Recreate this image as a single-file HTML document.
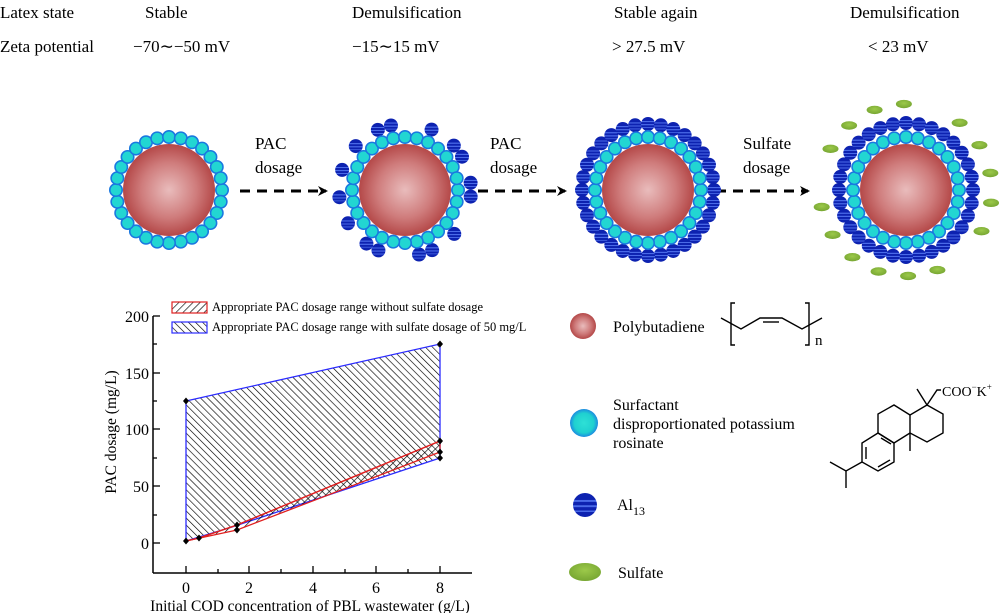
<!DOCTYPE html>
<html><head><meta charset="utf-8"><style>
html,body{margin:0;padding:0;background:#fff;}
svg{display:block;font-family:"Liberation Serif",serif;}
</style></head><body>
<svg id="s" width="1000" height="613" viewBox="0 0 1000 613" xmlns="http://www.w3.org/2000/svg">
<defs>
<radialGradient id="core" cx="50%" cy="50%" r="50%"><stop offset="0" stop-color="#e9bcbc"/><stop offset="0.6" stop-color="#cf7c7c"/><stop offset="1" stop-color="#b44848"/></radialGradient>
<radialGradient id="cy" cx="50%" cy="50%" r="50%"><stop offset="0" stop-color="#2ee0d6"/><stop offset="0.7" stop-color="#1fd0d0"/><stop offset="1" stop-color="#1c8be0"/></radialGradient>
<linearGradient id="bl" x1="0" y1="0" x2="0" y2="1">
<stop offset="0" stop-color="#0d22b0"/><stop offset="0.28" stop-color="#0d22b0"/><stop offset="0.3" stop-color="#4a6ae8"/><stop offset="0.36" stop-color="#4a6ae8"/><stop offset="0.38" stop-color="#0d22b0"/><stop offset="0.5" stop-color="#0d22b0"/><stop offset="0.52" stop-color="#4a6ae8"/><stop offset="0.58" stop-color="#4a6ae8"/><stop offset="0.6" stop-color="#0d22b0"/><stop offset="0.72" stop-color="#0d22b0"/><stop offset="0.74" stop-color="#4a6ae8"/><stop offset="0.78" stop-color="#4a6ae8"/><stop offset="0.8" stop-color="#0d22b0"/><stop offset="1" stop-color="#0d22b0"/></linearGradient>
<radialGradient id="gr" cx="50%" cy="40%" r="60%"><stop offset="0" stop-color="#9cc94a"/><stop offset="1" stop-color="#77a632"/></radialGradient>
<pattern id="hr" width="5" height="5" patternUnits="userSpaceOnUse" patternTransform="rotate(45)"><line x1="0" y1="0" x2="0" y2="5" stroke="#000" stroke-width="1.3"/></pattern>
<pattern id="hb" width="5" height="5" patternUnits="userSpaceOnUse" patternTransform="rotate(-45)"><line x1="0" y1="0" x2="0" y2="5" stroke="#000" stroke-width="1.3"/></pattern>
<marker id="ah" markerWidth="10" markerHeight="10" refX="8" refY="5" orient="auto" markerUnits="userSpaceOnUse"><path d="M0,0 L10,5 L0,10 L3,5 Z" fill="#000"/></marker>
</defs>
<g font-size="17">
<text x="0" y="18">Latex state</text>
<text x="0" y="52">Zeta potential</text>
<text x="145" y="18">Stable</text>
<text x="133" y="52">−70∼−50 mV</text>
<text x="352" y="18">Demulsification</text>
<text x="352" y="52">−15∼15 mV</text>
<text x="614" y="18">Stable again</text>
<text x="612" y="52">&gt; 27.5 mV</text>
<text x="850" y="18">Demulsification</text>
<text x="868" y="52">&lt; 23 mV</text>
<text x="255" y="149">PAC</text><text x="255" y="173">dosage</text>
<text x="490" y="149">PAC</text><text x="490" y="173">dosage</text>
<text x="743" y="149">Sulfate</text><text x="743" y="173">dosage</text>
</g>
<g stroke="#000" stroke-width="3" stroke-dasharray="10,7" fill="none">
<line x1="240" y1="191" x2="326" y2="191" marker-end="url(#ah)"/>
<line x1="478" y1="191" x2="565" y2="191" marker-end="url(#ah)"/>
<line x1="716" y1="191" x2="808" y2="191" marker-end="url(#ah)"/>
</g>
<g id="parts"></g>

<!-- chart -->
<g font-size="16">
<polygon points="186,541 186,401 440,344 440,458 232,527" fill="url(#hb)" stroke="#2b2bff" stroke-width="1.3"/>
<polygon points="186,541 199,538 237,525 440,441 440,452 237,530" fill="url(#hr)" stroke="#e02020" stroke-width="1.3"/>
<polyline points="186,541 199,538 237,525 440,441" fill="none" stroke="#e02020" stroke-width="1.3"/>
<g fill="#000" id="mk"></g>
<line x1="153" y1="316" x2="153" y2="573" stroke="#000" stroke-width="1.5"/>
<line x1="153" y1="573" x2="472" y2="573" stroke="#000" stroke-width="1.5"/>
<g stroke="#000" stroke-width="1.3">
<line x1="153" y1="316" x2="160" y2="316"/><line x1="153" y1="344" x2="157" y2="344"/>
<line x1="153" y1="373" x2="160" y2="373"/><line x1="153" y1="401" x2="157" y2="401"/>
<line x1="153" y1="429" x2="160" y2="429"/><line x1="153" y1="458" x2="157" y2="458"/>
<line x1="153" y1="486" x2="160" y2="486"/><line x1="153" y1="515" x2="157" y2="515"/>
<line x1="153" y1="543" x2="160" y2="543"/>
<line x1="186" y1="573" x2="186" y2="566"/><line x1="218" y1="573" x2="218" y2="569"/>
<line x1="249" y1="573" x2="249" y2="566"/><line x1="281" y1="573" x2="281" y2="569"/>
<line x1="313" y1="573" x2="313" y2="566"/><line x1="345" y1="573" x2="345" y2="569"/>
<line x1="376" y1="573" x2="376" y2="566"/><line x1="408" y1="573" x2="408" y2="569"/>
<line x1="440" y1="573" x2="440" y2="566"/>
</g>
<g text-anchor="end"><text x="149" y="322">200</text><text x="149" y="379">150</text><text x="149" y="435">100</text><text x="149" y="492">50</text><text x="149" y="549">0</text></g>
<g text-anchor="middle"><text x="186" y="593">0</text><text x="249" y="593">2</text><text x="313" y="593">4</text><text x="376" y="593">6</text><text x="440" y="593">8</text>
<text x="310" y="611" font-size="15.5">Initial COD concentration of PBL wastewater (g/L)</text>
<text transform="translate(116,432) rotate(-90)" font-size="15.5">PAC dosage (mg/L)</text></g>
<rect x="172" y="302" width="35" height="11" fill="url(#hr)" stroke="#e02020" stroke-width="1.2"/>
<rect x="172" y="322" width="35" height="11" fill="url(#hb)" stroke="#2b2bff" stroke-width="1.2"/>
<text x="212" y="311" font-size="12.5">Appropriate PAC dosage range without sulfate dosage</text>
<text x="212" y="331" font-size="12.5">Appropriate PAC dosage range with sulfate dosage of 50 mg/L</text>
</g>

<!-- right legend -->
<circle cx="583" cy="326" r="13" fill="url(#core)"/>
<circle cx="584" cy="423" r="14" fill="url(#cy)"/>
<circle cx="585" cy="505" r="12" fill="url(#bl)"/>
<ellipse cx="585" cy="572" rx="16" ry="9" fill="url(#gr)"/>
<g font-size="16">
<text x="613" y="332">Polybutadiene</text>
<text x="613" y="410">Surfactant</text>
<text x="613" y="429">disproportionated potassium</text>
<text x="613" y="448">rosinate</text>
<text x="617" y="510">Al<tspan font-size="12" dy="5">13</tspan></text>
<text x="618" y="578">Sulfate</text>
<text x="815" y="345" font-size="15">n</text>
<text x="942" y="396" font-size="14">COO<tspan font-size="9" dy="-6">−</tspan><tspan dy="6">K</tspan><tspan font-size="9" dy="-6">+</tspan></text>
</g>
<g stroke="#000" stroke-width="1.4" fill="none">
<polyline points="735,303 731,303 731,345 735,345"/>
<polyline points="805,303 809,303 809,345 805,345"/>
<polyline points="721,318 741,329 760,318 782,318 802,329 822,318"/>
<line x1="763" y1="322" x2="779" y2="322"/>
<polyline points="927,405 943,414 943,433 927,442 910,433 910,415 927,405"/>
<polyline points="910,415 894,405 878,414 878,433 894,443 910,433"/>
<polyline points="878,433 894,443 894,462 878,471 862,462 862,443 878,433"/>
<line x1="881" y1="438" x2="891" y2="444"/><line x1="890" y1="460" x2="878" y2="467"/><line x1="866" y1="447" x2="866" y2="459"/>
<line x1="910" y1="433" x2="910" y2="451"/>
<polyline points="917,389 927,405 937,390 941,390"/>
<polyline points="862,462 846,471 830,462"/><line x1="846" y1="471" x2="846" y2="488"/>
</g>
</svg>
<script>
var NS="http://www.w3.org/2000/svg",g=document.getElementById("parts");
function el(t,a){var e=document.createElementNS(NS,t);for(var k in a)e.setAttribute(k,a[k]);g.appendChild(e);return e;}
function ring(cx,cy,r,n,kind,skip,off){off=off||0;for(var i=0;i<n;i++){if(skip&&skip.indexOf(i)>=0)continue;var a=2*Math.PI*i/n+off,x=cx+r*Math.cos(a),y=cy+r*Math.sin(a);
if(kind=="c")el("circle",{cx:x,cy:y,r:6.2,fill:"#22d6d2",stroke:"#1a78e0","stroke-width":1.6});
else if(kind=="b")el("circle",{cx:x,cy:y,r:7,fill:"url(#bl)"});
else el("ellipse",{cx:x,cy:y,rx:8,ry:4.2,fill:"url(#gr)"});}}
function core(cx,cy){el("circle",{cx:cx,cy:cy,r:46,fill:"url(#core)"});}
// particle 1
core(169,190);ring(169,190,53,28,"c");
// particle 2
ring(405,190,66,30,"b",[1,2,4,7,8,11,13,15,17,19,22,23,25,28],0.1);core(405,190);ring(405,190,53,28,"c");
// particle 3
ring(648,190,66,32,"b");core(648,190);ring(648,190,53,28,"c");
// particle 4
ring(906,190,67,32,"b");core(906,190);ring(906,190,53,28,"c");ring(906,190,86,18,"g",[2,9,14],0.15);
var m=document.getElementById("mk");
[[186,541],[186,401],[440,344],[440,458],[440,441],[440,452],[199,538],[237,525],[237,530]].forEach(function(p){var e=document.createElementNS(NS,"path");e.setAttribute("d","M"+p[0]+","+(p[1]-3.5)+"l3,3.5l-3,3.5l-3,-3.5z");m.appendChild(e);});
</script>
</body></html>
